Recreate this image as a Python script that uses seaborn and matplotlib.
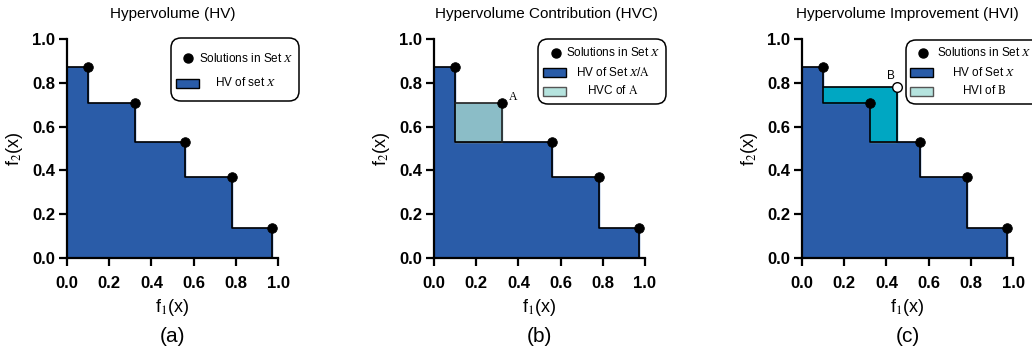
import matplotlib
matplotlib.use("Agg")
import matplotlib.pyplot as plt
import seaborn as sns
from matplotlib.patches import Rectangle, FancyBboxPatch
from matplotlib.lines import Line2D
from matplotlib.transforms import Affine2D

# ---- data ----
f1 = [0.10, 0.32, 0.56, 0.78, 0.97]
f2 = [0.87, 0.71, 0.53, 0.37, 0.135]
point_A = (0.32, 0.71)
point_B = (0.45, 0.78)
ticks = [0.0, 0.2, 0.4, 0.6, 0.8, 1.0]
tick_labels = ["0.0", "0.2", "0.4", "0.6", "0.8", "1.0"]
titles = ["Hypervolume (HV)", "Hypervolume Contribution (HVC)", "Hypervolume Improvement (HVI)"]
panel_labels = ["(a)", "(b)", "(c)"]
legend_labels = [
    ["Solutions in Set $\\mathit{X}$", "HV of set $\\mathit{X}$"],
    ["Solutions in Set $\\mathit{X}$", "HV of Set $\\mathit{X}$/$\\mathrm{A}$", "HVC of $\\mathrm{A}$"],
    ["Solutions in Set $\\mathit{X}$", "HV of Set $\\mathit{X}$", "HVI of $\\mathrm{B}$"],
]

HV_BLUE = "#2a5ca8"
HVC_COL = "#8bbdc7"
HVI_COL = "#00a7c2"
LEG_LIGHT = "#b5e3de"

sns.set_theme(style="ticks")
plt.rcParams['font.family'] = ['Liberation Sans', 'DejaVu Sans']
plt.rcParams['mathtext.fontset'] = 'stix'
for k in ["text.color", "axes.labelcolor", "xtick.color", "ytick.color",
          "xtick.labelcolor", "ytick.labelcolor"]:
    plt.rcParams[k] = "black"

W, H = 1032, 350
fig = plt.figure(figsize=(W / 100, H / 100), dpi=100)
# pixel transform with origin at top-left (display pixels, dpi 100)
PIX = Affine2D().scale(1, -1).translate(0, H)
DISP = Affine2D()  # display pixels, origin bottom-left

lefts = [67, 434, 802]
axes = []
for l in lefts:
    ax = fig.add_axes([l / W, (H - 258) / H, 211 / W, 219 / H])
    axes.append(ax)


def step_front(xs, ys):
    px, py = [0, 0], [0, ys[0]]
    for i in range(len(xs)):
        px.append(xs[i]); py.append(ys[i])
        nxt = ys[i + 1] if i + 1 < len(xs) else 0
        px.append(xs[i]); py.append(nxt)
    return px, py


def style_axes(ax, idx, title_x=0.5):
    ax.set_xlim(0, 1)
    ax.set_ylim(0, 1)
    for s in ["top", "right"]:
        ax.spines[s].set_visible(False)
    for s in ["left", "bottom"]:
        ax.spines[s].set_linewidth(1.6)
        ax.spines[s].set_color("black")
    ax.set_xticks(ticks)
    ax.set_yticks(ticks)
    ax.set_xticklabels(tick_labels, fontweight="bold", fontsize=12, color="black")
    ax.set_yticklabels(tick_labels, fontweight="bold", fontsize=12, color="black")
    ax.tick_params(axis="both", direction="out", length=6, width=1.6, color="black")
    ax.tick_params(axis="x", pad=7)
    ax.tick_params(axis="y", pad=2.5)
    ax.set_xlabel("f$_1$(x)", fontsize=13, labelpad=4, color="black")
    ax.set_ylabel("f$_2$(x)", fontsize=13, labelpad=5, color="black")
    ax.set_title(titles[idx], fontsize=11, pad=15, x=title_x, color="black")
    ax.text(0.5, -(337 - 258) / 219, panel_labels[idx], transform=ax.transAxes,
            ha="center", va="center", fontsize=15, color="black")
    ax.set_facecolor("white")


def scatter(ax):
    sns.scatterplot(x=f1, y=f2, ax=ax, color="black", s=48, edgecolor="black",
                    zorder=5, clip_on=False, legend=False)


def manual_legend(box, marker_x, patch_x, text_cx, rows_y, labels, patch_colors):
    x0, y0, x1, y1 = box  # top-left origin pixels
    fb = FancyBboxPatch((x0, H - y1), x1 - x0, y1 - y0, transform=DISP,
                        boxstyle="round,pad=0,rounding_size=10",
                        facecolor="white", edgecolor="black", linewidth=1.1,
                        zorder=10)
    fig.add_artist(fb)
    fig.add_artist(Line2D([marker_x], [rows_y[0]], marker="o", ls="", color="black",
                          markersize=6.5, transform=PIX, zorder=11))
    fig.text(text_cx, rows_y[0], labels[0], transform=PIX, ha="center", va="center",
             fontsize=8.5, zorder=11)
    for i, (lab, (fc, ec)) in enumerate(zip(labels[1:], patch_colors)):
        yy = rows_y[i + 1]
        fig.add_artist(Rectangle((patch_x, H - yy - 4.5), 23, 9, transform=DISP,
                                 facecolor=fc, edgecolor=ec, linewidth=1.0, zorder=11))
        fig.text(text_cx, yy, lab, transform=PIX, ha="center", va="center",
                 fontsize=8.5, zorder=11)


# ---- (a) ----
ax = axes[0]
px, py = step_front(f1, f2)
ax.fill(px, py, color=HV_BLUE, zorder=1)
ax.plot(px, py, color="black", lw=1.2, zorder=2)
scatter(ax)
style_axes(ax, 0)
manual_legend((171, 38, 299, 101), 188, 176, 246, [58, 83], legend_labels[0],
              [(HV_BLUE, "black")])

# ---- (b) ----
ax = axes[1]
iA = f1.index(point_A[0])
xs_b = [x for i, x in enumerate(f1) if i != iA]
ys_b = [y for i, y in enumerate(f2) if i != iA]
px, py = step_front(xs_b, ys_b)
ax.fill(px, py, color=HV_BLUE, zorder=1)
x_left = f1[iA - 1]
y_low = f2[iA + 1]
ax.fill_between([x_left, point_A[0]], [y_low, y_low], [point_A[1], point_A[1]],
                color=HVC_COL, zorder=1.5)
ax.plot([x_left, point_A[0]], [y_low, y_low], color="#555555", lw=1.0, zorder=2)
ax.plot(px, py, color="black", lw=1.2, zorder=2)
ax.plot([x_left, point_A[0], point_A[0]], [point_A[1], point_A[1], y_low],
        color="#222222", lw=1.2, zorder=2)
scatter(ax)
ax.annotate("A", xy=point_A, xytext=(5, 1.5), textcoords="offset points",
            fontsize=8.5, family="Liberation Serif")
style_axes(ax, 1, title_x=0.533)
manual_legend((538, 39, 666, 104), 556, 543, 613, [53, 72, 91], legend_labels[1],
              [(HV_BLUE, "black"), (LEG_LIGHT, "#555555")])

# ---- (c) ----
ax = axes[2]
px, py = step_front(f1, f2)
ax.fill(px, py, color=HV_BLUE, zorder=1)
bx = [f1[0], f1[0], f1[1], f1[1], point_B[0], point_B[0]]
by = [point_B[1], f2[1], f2[1], f2[2], f2[2], point_B[1]]
ax.fill(bx, by, color=HVI_COL, zorder=1.5)
ax.plot([f1[1], point_B[0]], [f2[2], f2[2]], color="#777777", lw=1.0, zorder=2)
ax.plot(px, py, color="black", lw=1.2, zorder=2)
ax.plot([f1[0], point_B[0], point_B[0]], [point_B[1], point_B[1], f2[2]],
        color="black", lw=1.2, zorder=2)
scatter(ax)
ax.scatter([point_B[0]], [point_B[1]], s=48, facecolor="white", edgecolor="black",
           linewidth=1.0, zorder=6, clip_on=False)
ax.annotate("B", xy=point_B, xytext=(-4.5, 3.5), textcoords="offset points",
            fontsize=8.5, ha="center", va="bottom")
style_axes(ax, 2)
manual_legend((906, 40, 1045, 104), 923, 910, 984, [53, 72, 91], legend_labels[2],
              [(HV_BLUE, "black"), (LEG_LIGHT, "#555555")])

fig.savefig("out.png", dpi=100, facecolor="white")
